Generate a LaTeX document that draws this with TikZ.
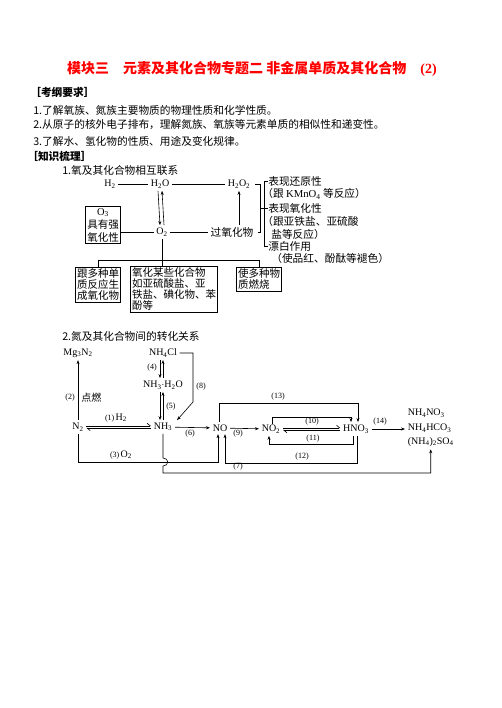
\documentclass[tikz,border=0pt]{standalone}
\usepackage{fontspec}
\setmainfont{Liberation Serif}
\newfontfamily\cjk{Noto Sans CJK SC}
\usetikzlibrary{arrows.meta}
\newcommand\chsub[1]{\textsubscript{#1}}
\tikzset{
  txt/.style={inner sep=0pt, anchor=west, font=\cjk\fontsize{10.7}{12}\selectfont},
  head/.style={txt, font=\cjk\bfseries\fontsize{10.7}{12}\selectfont},
  chem/.style={inner sep=2.5pt, font=\fontsize{10}{12}\selectfont},
  lbl/.style={inner sep=0pt, font=\fontsize{8}{9}\selectfont},
  box/.style={draw, inner sep=1.5pt, align=left, anchor=north, font=\cjk\fontsize{10.5}{11}\selectfont},
  harp/.style={-{Straight Barb[harpoon,length=3pt,width=5pt]}},
  >={Stealth[length=4pt,width=3pt]}
}
\begin{document}
\begin{tikzpicture}[x=1pt,y=-1pt,line width=0.6pt]
  \useasboundingbox (0,0) rectangle (502,708);
  % header
  \node[inner sep=0pt, text=red, font=\cjk\bfseries\fontsize{14}{16}\selectfont] (title) at (252,69)
    {模块三　元素及其化合物专题二 非金属单质及其化合物　{\rmfamily\bfseries (2)}};
  \node[head] (req) at (30,92) {［考纲要求］};
  \node[txt] (req1) at (33,110) {1.了解氧族、氮族主要物质的物理性质和化学性质。};
  \node[txt] (req2) at (33,125) {2.从原子的核外电子排布，理解氮族、氧族等元素单质的相似性和递变性。};
  \node[txt] (req3) at (33,141) {3.了解水、氢化物的性质、用途及变化规律。};
  \node[head] (sum) at (27,156) {［知识梳理］};
  \node[txt] (part1) at (62,170) {1.氧及其化合物相互联系};

  % oxygen
  \node[chem] (h2) at (110,184) {H\chsub{2}};
  \node[chem] (h2o) at (160,184) {H\chsub{2}O};
  \node[chem] (h2o2) at (239,184) {H\chsub{2}O\chsub{2}};
  \node[chem] (o2) at (162,232) {O\chsub{2}};
  \node[txt, anchor=center, inner sep=2pt] (pero) at (232,232) {过氧化物};
  \node[box, anchor=center, align=center, font=\cjk\fontsize{10.5}{13}\selectfont] (o3) at (103,225)
    {{\rmfamily O\chsub{3}}\\具有强\\氧化性};
  \draw (h2) -- (h2o);
  \draw (h2o) -- (h2o2);
  \draw[->] ([xshift=-2pt]h2o.south) -- ([xshift=-2pt]o2.north);
  \draw[->] ([xshift=2pt]o2.north) -- ([xshift=2pt]h2o.south);
  \draw (o3.east |- o2) -- (o2);
  \draw (o2) -- (pero);
  \draw[->] (pero.north -| h2o2) -- (h2o2);

  \node[txt] (r1) at (268,181) {表现还原性};
  \node[txt] (r2) at (262,194) {（跟 {\rmfamily KMnO\chsub{4}} 等反应）};
  \node[txt] (r3) at (268,208) {表现氧化性};
  \node[txt] (r4) at (262,221) {（跟亚铁盐、亚硫酸};
  \node[txt] (r5) at (271,234) {盐等反应）};
  \node[txt] (r6) at (268,246) {漂白作用};
  \node[txt] (r7) at (271,258) {（使品红、酚酞等褪色）};
  \coordinate (b1t) at (260,184);
  \coordinate (b1b) at (260,232);
  \coordinate (b1m) at (260,208);
  \coordinate (b2) at (264,208);
  \draw ([xshift=2pt]h2o2.east) -- (b1t) -- (b1b) -- ([xshift=2pt]pero.east);
  \draw (b1m) -- (r3.west);
  \draw (r1.west) -- (r1.west -| b2) -- (r6.west -| b2) -- (r6.west);

  \node[box, line width=0.8pt] (boxa) at (98,267) {跟多种单\\质反应生\\成氧化物};
  \node[box] (boxb) at (174,266) {氧化某些化合物\\如亚硫酸盐、亚\\铁盐、碘化物、苯\\酚等};
  \node[box] (boxc) at (259,267) {使多种物\\质燃烧};
  \coordinate (hub) at (162,260);
  \draw (o2) -- (o2 |- boxb.north);
  \draw (boxa.north) -- (boxa.north |- hub) -- (boxc.north |- hub) -- (boxc.north);

  % nitrogen
  \node[txt] (part2) at (62,336) {2.氮及其化合物间的转化关系};
  \node[chem] (mg) at (78,353) {Mg\chsub{3}N\chsub{2}};
  \node[chem] (nh4cl) at (163,353) {NH\chsub{4}Cl};
  \node[chem] (nh3h2o) at (163,385) {NH\chsub{3}$\cdot$H\chsub{2}O};
  \node[chem] (nh3) at (163,427) {NH\chsub{3}};
  \node[chem] (n2) at (78,427) {N\chsub{2}};
  \node[chem] (no) at (220,428) {NO};
  \node[chem] (no2) at (271,429) {NO\chsub{2}};
  \node[chem] (hno3) at (356,429) {HNO\chsub{3}};
  \node[chem, anchor=west] (s1) at (405,413) {NH\chsub{4}NO\chsub{3}};
  \node[chem, anchor=west] (s2) at (405,428) {NH\chsub{4}HCO\chsub{3}};
  \node[chem, anchor=west] (s3) at (405,442) {(NH\chsub{4})\chsub{2}SO\chsub{4}};

  \draw[->] (n2.north) -- (n2.north |- mg.south);
  \node[lbl, anchor=east] (l2) at (75,398) {(2)};
  \node[txt, font=\cjk\fontsize{10}{12}\selectfont] (l2b) at (81,398) {点燃};

  \draw[->] ([xshift=-3pt]nh4cl.south) -- ([xshift=-3pt]nh3h2o.north);
  \draw[->] ([xshift=0pt]nh3h2o.north) -- ([xshift=0pt]nh4cl.south);
  \node[lbl, anchor=east] (l4) at (157,368) {(4)};
  \draw[->] ([xshift=-3pt]nh3h2o.south) -- ([xshift=-3pt]nh3.north);
  \draw[->] ([xshift=0pt]nh3.north) -- ([xshift=0pt]nh3h2o.south);
  \node[lbl, anchor=west] (l5) at (166,407) {(5)};

  \draw[->] (nh4cl.east) -- (193,353) -- (193,402) -- ([xshift=2pt]nh3.north east);
  \node[lbl] (l8) at (201,387) {(8)};

  \draw[harp] ([yshift=1.2pt]n2.east) -- ([yshift=1.2pt]nh3.west);
  \draw[harp] ([yshift=-1.2pt]nh3.west) -- ([yshift=-1.2pt]n2.east);
  \node[lbl] (l1) at (116,418) {(1)\,{\fontsize{10}{12}\selectfont H\chsub{2}}};

  \draw[->] (nh3) -- (no);
  \node[lbl] (l6) at (190,434) {(6)};

  \coordinate (c3a) at (78,462);
  \coordinate (c3b) at (218,462);
  \draw[->] (n2.south) -- (c3a) -- (c3b) -- (c3b |- no.south);
  \node[lbl] (l3) at (121,455) {(3)\,{\fontsize{10}{12}\selectfont O\chsub{2}}};

  \coordinate (c7) at (163,473);
  \draw[->] (nh3.south) -- (163,458) to[out=0,in=0,looseness=2] (163,466) -- (c7) -- (c7 -| s3.south) -- (s3.south);
  \node[lbl] (l7) at (238,467) {(7)};

  \draw[->] (no) -- (no2);
  \node[lbl] (l9) at (238,434) {(9)};

  \coordinate (c13a) at (219,403);
  \coordinate (c13b) at (358,403);
  \draw[->] (no.north -| c13a) -- (c13a) -- (c13b) -- (c13b |- hno3.north);
  \node[lbl] (l13) at (278,397) {(13)};

  \coordinate (c10a) at (272,417);
  \coordinate (c10b) at (351,417);
  \draw[->] ([yshift=-2pt]no2.north -| c10a) -- (c10a) -- (c10b) -- (c10b |- hno3.north);
  \draw[harp] ([yshift=1.2pt]no2.east) -- ([yshift=1.2pt]hno3.west);
  \draw[harp] ([yshift=-1.2pt]hno3.west) -- ([yshift=-1.2pt]no2.east);
  \node[lbl] (l10) at (312,421.5) {(10)};

  \coordinate (c11a) at (353,444);
  \coordinate (c11b) at (269,444);
  \draw[->] (hno3.south -| c11a) -- (c11a) -- (c11b) -- (c11b |- no2.south);
  \node[lbl] (l11) at (313,439) {(11)};

  \coordinate (c12a) at (357,463);
  \coordinate (c12b) at (225,463);
  \draw[->] (hno3.south -| c12a) -- (c12a) -- (c12b) -- (c12b |- no.south);
  \node[lbl] (l12) at (302,457) {(12)};

  \draw[->] (hno3.east) -- (hno3.east -| s2.west);
  \node[lbl] (l14) at (380,422) {(14)};
\end{tikzpicture}
\end{document}
